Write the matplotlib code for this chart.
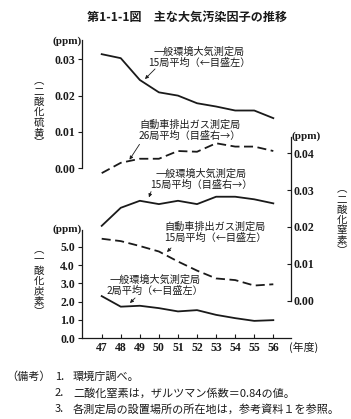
import matplotlib
matplotlib.use("Agg")
import matplotlib.pyplot as plt

plt.rcParams['font.family'] = ['Noto Sans CJK JP', 'DejaVu Sans']

years = [47, 48, 49, 50, 51, 52, 53, 54, 55, 56]
year_labels = ["47", "48", "49", "50", "51", "52", "53", "54", "55", "56"]

so2_general = [0.0314, 0.0303, 0.0243, 0.0209, 0.0200, 0.0179, 0.0170, 0.0159, 0.0159, 0.0138]
no2_auto = [0.0346, 0.0374, 0.0385, 0.0385, 0.0406, 0.0404, 0.0427, 0.0418, 0.0418, 0.0406]
no2_general = [0.0203, 0.0252, 0.0271, 0.0262, 0.0271, 0.0262, 0.0282, 0.0282, 0.0275, 0.0264]
co_auto = [5.45, 5.32, 5.05, 4.75, 4.20, 3.70, 3.27, 3.18, 2.88, 2.95]
co_general = [2.30, 1.72, 1.77, 1.64, 1.46, 1.53, 1.27, 1.09, 0.94, 0.98]

so2_ticks = [0.00, 0.01, 0.02, 0.03]
so2_ticklabels = ["0.00", "0.01", "0.02", "0.03"]
no2_ticks = [0.00, 0.01, 0.02, 0.03, 0.04]
no2_ticklabels = ["0.00", "0.01", "0.02", "0.03", "0.04"]
co_ticks = [0.0, 1.0, 2.0, 3.0, 4.0, 5.0]
co_ticklabels = ["0.0", "1.0", "2.0", "3.0", "4.0", "5.0"]

W, H = 351, 419
fig = plt.figure(figsize=(W / 100, H / 100), dpi=100)
fig.patch.set_facecolor("white")

def fx(px):
    return px / W

def fy(py):
    return 1 - py / H

X0, X1 = 82, 291
xlim = (45.967, 56.928)
ink = "#1a1a1a"
tickfont = dict(family=['Liberation Serif'], size=8.5, weight='bold')

def make_axes(top, bottom):
    ax = fig.add_axes([fx(X0), fy(bottom), fx(X1) - fx(X0), (bottom - top) / H])
    ax.set_facecolor("none")
    ax.set_xlim(*xlim)
    for s in ax.spines.values():
        s.set_visible(False)
        s.set_color(ink)
        s.set_linewidth(0.9)
    return ax

ax_so2 = make_axes(40, 168.3)
ax_so2.set_ylim(0, 0.0353)
ax_so2.spines['left'].set_visible(True)
ax_so2.set_xticks([])
ax_so2.set_yticks(so2_ticks)
ax_so2.set_yticklabels(so2_ticklabels, fontdict=tickfont)
ax_so2.tick_params(axis='y', direction='out', length=3, width=0.8, color=ink, pad=2, labelcolor=ink)

ax_no2 = make_axes(137, 300.7)
ax_no2.set_ylim(0, 0.0444)
ax_no2.spines['right'].set_visible(True)
ax_no2.set_xticks([])
ax_no2.yaxis.tick_right()
ax_no2.set_yticks(no2_ticks)
ax_no2.set_yticklabels(no2_ticklabels, fontdict=tickfont)
ax_no2.tick_params(axis='y', direction='in', length=3, width=0.8, color=ink, pad=2, labelcolor=ink)

ax_co = make_axes(230, 338)
ax_co.set_ylim(0, 5.93)
ax_co.spines['left'].set_visible(True)
ax_co.spines['bottom'].set_visible(True)
ax_co.set_yticks(co_ticks)
ax_co.set_yticklabels(co_ticklabels, fontdict=tickfont)
ax_co.tick_params(axis='y', direction='out', length=3, width=0.8, color=ink, pad=2, labelcolor=ink)
ax_co.set_xticks(years)
ax_co.set_xticklabels(year_labels, fontdict=tickfont)
ax_co.tick_params(axis='x', direction='in', length=3, width=0.8, color=ink, pad=3, labelcolor=ink)

lw = 1.3
dash = (0, (5, 2.5))
ax_so2.plot(years, so2_general, color=ink, lw=lw, clip_on=False)
ax_no2.plot(years, no2_auto, color=ink, lw=lw, ls=dash, clip_on=False)
ax_no2.plot(years, no2_general, color=ink, lw=lw, clip_on=False)
ax_co.plot(years, co_auto, color=ink, lw=lw, ls=dash, clip_on=False)
ax_co.plot(years, co_general, color=ink, lw=lw, clip_on=False)

def ptext(x, y, s, **kw):
    kw.setdefault('color', ink)
    fig.text(fx(x), fy(y), s, **kw)

# title
ptext(187, 17, "第1-1-1図　主な大気汚染因子の推移", ha='center', va='center', fontsize=8.7, weight='bold')

# units
ptext(67, 41, "(ppm)", ha='center', va='center', family=['Liberation Serif'], fontsize=8, weight='bold')
ptext(306, 136, "(ppm)", ha='center', va='center', family=['Liberation Serif'], fontsize=8, weight='bold')
ptext(67, 229, "(ppm)", ha='center', va='center', family=['Liberation Serif'], fontsize=8, weight='bold')
ptext(304, 347, "(年度)", ha='center', va='center', fontsize=7.8)

def vtext(x, yc, s):
    ptext(x, yc, "\n".join(list(s)), ha='center', va='center', fontsize=7.5, linespacing=1.05)

vtext(39, 112, "︵二酸化硫黄︶")
vtext(39, 281, "︵一酸化炭素︶")
vtext(342, 220, "︵二酸化窒素︶")

# annotations
afont = dict(fontsize=7.3, linespacing=1.15, ha='center', va='center')
ptext(199, 57, "一般環境大気測定局\n15局平均（←目盛左）", **afont)
ptext(190, 130, "自動車排出ガス測定局\n26局平均（目盛右→）", **afont)
ptext(201, 179, "一般環境大気測定局\n15局平均（目盛右→）", **afont)
ptext(215, 232, "自動車排出ガス測定局\n15局平均（←目盛左）", **afont)
ptext(155, 285, "一般環境大気測定局\n2局平均（←目盛左）", **afont)

def arrow(x0, y0, x1, y1):
    fig.add_artist(matplotlib.patches.FancyArrowPatch(
        (fx(x0), fy(y0)), (fx(x1), fy(y1)), transform=fig.transFigure,
        arrowstyle='-|>', mutation_scale=5, lw=0.6, color=ink))

arrow(157, 67, 143, 81)
arrow(141, 142, 128, 162)
arrow(152, 189, 148, 200)
arrow(173, 246, 165, 254)
arrow(137, 296, 128, 305)

# notes
nfont = dict(fontsize=8, ha='left', va='center')
ptext(6, 377, "（備考）", **nfont)
ptext(55, 377, "1.", **nfont)
ptext(73, 377, "環境庁調べ。", **nfont)
ptext(55, 393, "2.", **nfont)
ptext(73, 393, "二酸化窒素は，ザルツマン係数＝0.84の値。", **nfont)
ptext(55, 409, "3.", **nfont)
ptext(73, 409, "各測定局の設置場所の所在地は，参考資料１を参照。", **nfont)

fig.savefig("out.png", dpi=100)
